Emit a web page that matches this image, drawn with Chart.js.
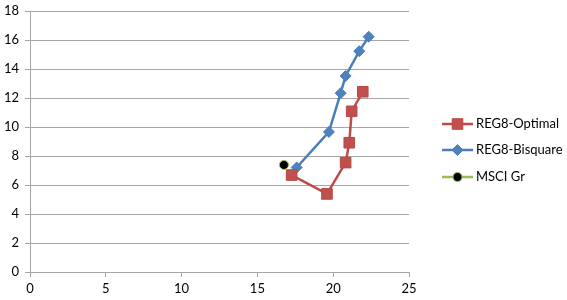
<!DOCTYPE html>
<html>
<head>
<meta charset="utf-8">
<script src="https://cdn.jsdelivr.net/npm/chart.js@4.4.1/dist/chart.umd.min.js"></script>
<style>
  html, body { margin: 0; padding: 0; background: #fff; }
</style>
</head>
<body>
<canvas id="grafico" width="567" height="300"></canvas>
<script>
// valores
const optimalX = [17.26, 19.59, 20.82, 21.06, 21.22, 21.95];
const optimalY = [6.69, 5.39, 7.55, 8.92, 11.09, 12.44];
const bisquareX = [17.59, 19.72, 20.49, 20.82, 21.72, 22.34];
const bisquareY = [7.21, 9.67, 12.34, 13.53, 15.24, 16.24];
const msciX = [16.75];
const msciY = [7.39];
const seriesNames = ['REG8-Optimal', 'REG8-Bisquare', 'MSCI Gr'];

function toPoints(xs, ys) {
    return xs.map((x, i) => ({ x: x, y: ys[i] }));
}

const FONT = 'Lato, "Open Sans", sans-serif';

// leyenda dibujada a mano (linea + marcador, estilo Excel)
const legendPlugin = {
    id: 'excelLegend',
    afterDraw(chart) {
        const ctx = chart.ctx;
        const x0 = 442, x1 = 473;
        const rows = [124, 150, 177];
        chart.data.datasets.forEach((ds, i) => {
            const y = rows[i];
            ctx.save();
            ctx.strokeStyle = ds.borderColor;
            ctx.lineWidth = ds.borderWidth;
            ctx.beginPath();
            ctx.moveTo(x0, y);
            ctx.lineTo(x1, y);
            ctx.stroke();
            ctx.fillStyle = ds.pointBackgroundColor;
            ctx.strokeStyle = ds.pointBorderColor;
            ctx.lineWidth = ds.pointBorderWidth;
            Chart.helpers.drawPoint(ctx, {
                pointStyle: ds.pointStyle,
                radius: ds.pointRadius,
                borderWidth: ds.pointBorderWidth
            }, (x0 + x1) / 2, y);
            ctx.fillStyle = '#000';
            ctx.font = '13px ' + FONT;
            ctx.textBaseline = 'middle';
            ctx.textAlign = 'left';
            ctx.fillText(ds.label, x1 + 3, y);
            ctx.restore();
        });
    }
};

new Chart(document.getElementById('grafico'), {
    type: 'scatter',
    data: {
        datasets: [
            {
                label: seriesNames[0],
                data: toPoints(optimalX, optimalY),
                showLine: true,
                borderColor: '#BE4B48',
                borderWidth: 2.5,
                pointStyle: 'rect',
                pointRadius: 7.5,
                pointBackgroundColor: '#C0504D',
                pointBorderColor: '#B84A47',
                pointBorderWidth: 1
            },
            {
                label: seriesNames[1],
                data: toPoints(bisquareX, bisquareY),
                showLine: true,
                borderColor: '#4A7EBB',
                borderWidth: 2.5,
                pointStyle: 'rectRot',
                pointRadius: 5.5,
                pointBackgroundColor: '#4F81BD',
                pointBorderColor: '#4A7EBB',
                pointBorderWidth: 1
            },
            {
                label: seriesNames[2],
                data: toPoints(msciX, msciY),
                showLine: true,
                borderColor: '#9BBB59',
                borderWidth: 2.5,
                pointStyle: 'circle',
                pointRadius: 4.5,
                pointBackgroundColor: '#000000',
                pointBorderColor: '#9BBB59',
                pointBorderWidth: 1
            }
        ]
    },
    options: {
        responsive: false,
        animation: false,
        maintainAspectRatio: false,
        layout: { padding: { top: 7, right: 158, left: 0, bottom: 0 } },
        plugins: {
            legend: { display: false },
            tooltip: { enabled: false }
        },
        scales: {
            x: {
                type: 'linear',
                min: 0,
                max: 25,
                ticks: { stepSize: 5, color: '#000', font: { family: FONT, size: 13 }, padding: 4, maxRotation: 0 },
                grid: { drawOnChartArea: false, drawTicks: true, tickLength: 5, color: '#A6A6A6' },
                border: { color: '#A6A6A6', width: 1 },
                afterFit(scale) { scale.height = 28; }
            },
            y: {
                type: 'linear',
                min: 0,
                max: 18,
                ticks: { stepSize: 2, color: '#000', font: { family: FONT, size: 13, lineHeight: 0.8 }, padding: 6 },
                grid: { drawOnChartArea: true, drawTicks: true, tickLength: 5, color: '#A6A6A6' },
                border: { color: '#A6A6A6', width: 1 },
                afterFit(scale) { scale.width = 30; }
            }
        }
    },
    plugins: [legendPlugin]
});
</script>
</body>
</html>
